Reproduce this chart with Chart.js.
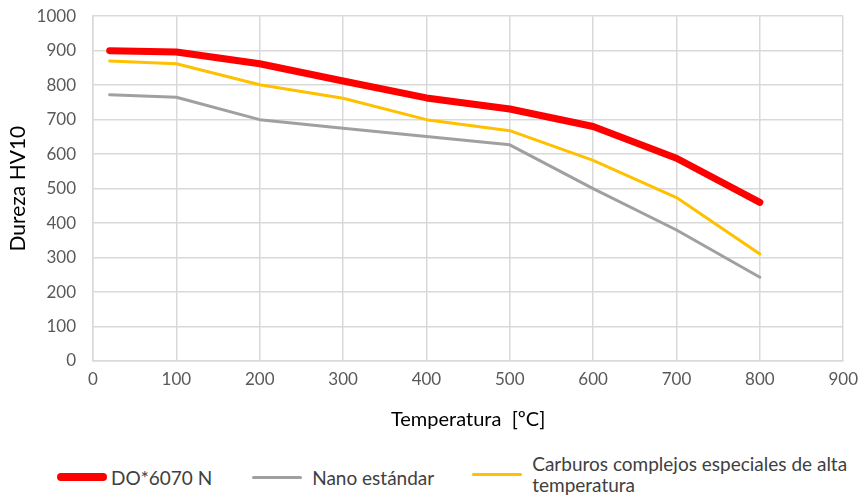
<!DOCTYPE html>
<html lang="es">
<head>
  <meta charset="UTF-8">
  <title>Dureza HV10 vs Temperatura</title>
  <script src="https://cdn.jsdelivr.net/npm/chart.js"></script>
  <style>
    body {
      margin: 0;
      width: 859px;
      height: 496px;
      background: #fff;
      font-family: Lato, "Open Sans", sans-serif;
      overflow: hidden;
      position: relative;
    }
    .chart-box {
      position: absolute;
      left: 0;
      top: -11px;
      width: 866px;
      height: 451px;
    }
    .legend {
      position: absolute;
      left: 57px;
      top: 453px;
      display: flex;
      align-items: center;
      color: #404040;
      font-size: 19px;
      line-height: 21px;
    }
    .legend .item {
      display: flex;
      align-items: center;
    }
    .legend .swatch {
      width: 50px;
      border-radius: 4px;
      margin-right: 10px;
    }
  </style>
</head>
<body>
  <div class="chart-box"><canvas id="hardness"></canvas></div>
  <div class="legend" id="legend"></div>

  <script>
    // temperatures in ºC
    const temps = [20, 100, 200, 300, 400, 500, 600, 700, 800];

    const do6070 = [900, 896, 862, 812, 763, 731, 680, 588, 460];
    const nanoStd = [772, 765, 700, 675, 651, 627, 500, 380, 243];
    const carburos = [870, 862, 801, 762, 700, 668, 582, 474, 310];

    const seriesNames = ['DO*6070 N', 'Nano estándar', 'Carburos complejos especiales de alta temperatura'];
    const seriesColors = ['#ff0000', '#a0a0a0', '#ffc000'];
    const seriesWidths = [7, 3, 3];

    const xTicks = [0, 100, 200, 300, 400, 500, 600, 700, 800, 900];
    const yTicks = [0, 100, 200, 300, 400, 500, 600, 700, 800, 900, 1000];

    const allSeries = [do6070, nanoStd, carburos];

    const datasets = allSeries.map((vals, i) => ({
      label: seriesNames[i],
      data: temps.map((t, j) => ({ x: t, y: vals[j] })),
      borderColor: seriesColors[i],
      backgroundColor: seriesColors[i],
      borderWidth: seriesWidths[i],
      borderCapStyle: 'round',
      borderJoinStyle: 'round',
      pointRadius: 0,
      tension: 0,
      fill: false
    }));
    // draw red on top like the original
    datasets.reverse();

    const gridColor = '#d9d9d9';
    const tickColor = '#595959';

    new Chart(document.getElementById('hardness'), {
      type: 'line',
      data: { datasets: datasets },
      options: {
        responsive: true,
        maintainAspectRatio: false,
        animation: false,
        layout: { padding: { top: 0, right: 10, left: 0, bottom: 0 } },
        plugins: {
          legend: { display: false },
          tooltip: { enabled: false }
        },
        scales: {
          x: {
            type: 'linear',
            min: 0,
            max: 900,
            afterBuildTicks: axis => { axis.ticks = xTicks.map(v => ({ value: v })); },
            grid: { color: gridColor, lineWidth: 1.5, drawTicks: false },
            border: { color: gridColor, width: 1.5 },
            ticks: { color: tickColor, font: { family: 'Lato', size: 17 }, padding: 8, callback: v => String(v) },
            title: {
              display: true,
              text: 'Temperatura  [ºC]',
              color: '#000',
              font: { family: 'Lato', size: 20 },
              padding: { top: 14, bottom: 8 }
            },
            afterFit: axis => { axis.height = 79; }
          },
          y: {
            min: 0,
            max: 1000,
            afterBuildTicks: axis => { axis.ticks = yTicks.map(v => ({ value: v })); },
            grid: { color: gridColor, lineWidth: 1.5, drawTicks: false },
            border: { color: gridColor, width: 1.5 },
            ticks: { color: tickColor, font: { family: 'Lato', size: 17 }, padding: 17, callback: v => String(v) },
            title: {
              display: true,
              text: 'Dureza HV10',
              color: '#000',
              font: { family: 'Lato', size: 21 },
              padding: { top: 6, bottom: 8 }
            },
            afterFit: axis => { axis.width = 93; }
          }
        }
      }
    });

    // html legend, wraps the long label like the original
    const legend = document.getElementById('legend');
    const legendWidths = [null, null, 315];
    const legendGaps = [0, 40, 38];
    seriesNames.forEach((name, i) => {
      const item = document.createElement('div');
      item.className = 'item';
      item.style.marginLeft = legendGaps[i] + 'px';
      if (i < 2) item.style.marginTop = '6px';
      const sw = document.createElement('span');
      sw.className = 'swatch';
      sw.style.height = (i === 0 ? 8 : 3) + 'px';
      sw.style.background = seriesColors[i];
      if (i === 0) sw.style.marginRight = '4px';
      const txt = document.createElement('span');
      txt.textContent = name;
      if (legendWidths[i]) txt.style.width = legendWidths[i] + 'px';
      item.appendChild(sw);
      item.appendChild(txt);
      legend.appendChild(item);
    });
  </script>
</body>
</html>
